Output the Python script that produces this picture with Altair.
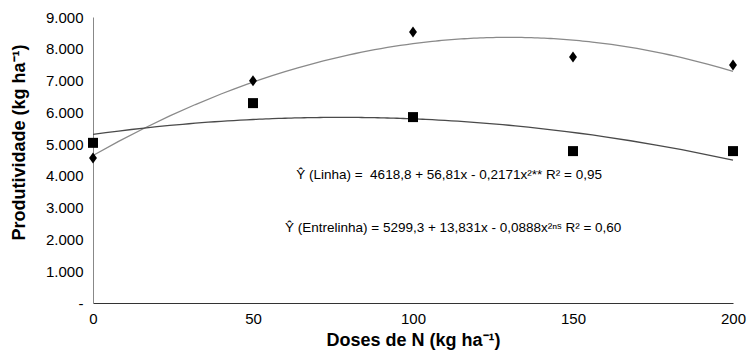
import altair as alt
import pandas as pd

doses = [0, 50, 100, 150, 200]
linha = [4560, 6990, 8530, 7740, 7490]
entrelinha = [5040, 6290, 5850, 4780, 4780]
series_names = ["Linha", "Entrelinha"]
x_ticks = [0, 50, 100, 150, 200]
y_ticks = [0, 1000, 2000, 3000, 4000, 5000, 6000, 7000, 8000, 9000]

eq_texts = [
    "Ŷ (Linha) =\u00a0\u00a04618,8 + 56,81x - 0,2171x²** R² = 0,95",
    "Ŷ (Entrelinha) = 5299,3 + 13,831x - 0,0888x²ⁿˢ R² = 0,60",
]
eq_x = [63.5, 60.0]
eq_y = [4030, 2360]

rows = []
for name, vals in zip(series_names, [linha, entrelinha]):
    for d, v in zip(doses, vals):
        rows.append({"dose": d, "prod": v, "serie": name})
df = pd.DataFrame(rows)
eq_df = pd.DataFrame({"x": eq_x, "y": eq_y, "t": eq_texts})

FONT = "Liberation Sans"

xscale = alt.Scale(domain=[0, 200], nice=False, zero=False)
yscale = alt.Scale(domain=[0, 9000], nice=False)

xaxis = alt.Axis(
    values=x_ticks, title="Doses de N (kg ha⁻¹)", ticks=False, grid=False,
    domainColor="#333333", labelPadding=8, titlePadding=5, labelFlush=False,
    labelOverlap=False,
)
yaxis = alt.Axis(
    values=y_ticks, title="Produtividade (kg ha⁻¹)", ticks=False, grid=False,
    domainColor="#888888", labelPadding=10, titlePadding=17, labelOverlap=False,
    titleY=125,
    labelExpr="datum.value == 0 ? '-\u00a0\u00a0' : replace(format(datum.value, ','), ',', '.')",
)

X = alt.X("dose:Q", scale=xscale, axis=xaxis)
Y = alt.Y("prod:Q", scale=yscale, axis=yaxis)

base = alt.Chart(df)

shape_scale = alt.Scale(
    domain=series_names,
    range=["M-0.72,0L0,-1L0.72,0L0,1Z", "square"],
)

points = base.mark_point(filled=True, opacity=1, color="#000000").encode(
    x=X, y=Y,
    shape=alt.Shape("serie:N", scale=shape_scale, legend=None),
    size=alt.Size("serie:N", scale=alt.Scale(domain=series_names, range=[121, 100]), legend=None),
)

trend = base.transform_regression(
    "dose", "prod", method="poly", order=2, groupby=["serie"]
).mark_line(strokeWidth=1.3).encode(
    x=X, y=Y,
    color=alt.Color("serie:N", scale=alt.Scale(domain=series_names, range=["#8a8a8a", "#4a4a4a"]), legend=None),
    detail="serie:N",
)

eqs = alt.Chart(eq_df).mark_text(
    align="left", baseline="middle", font=FONT, fontSize=13.5, color="#000000"
).encode(
    x=alt.X("x:Q", scale=xscale, axis=xaxis),
    y=alt.Y("y:Q", scale=yscale, axis=yaxis),
    text="t:N",
)

chart = alt.layer(trend, points, eqs).properties(
    width=640, height=286,
    autosize=alt.AutoSizeParams(type="none"),
    padding={"left": 93, "top": 17, "right": 16, "bottom": 60},
    background="#ffffff",
).configure_view(stroke=None).configure_axis(
    labelFont=FONT, labelFontSize=15, labelColor="#000000",
    titleFont=FONT, titleFontSize=18, titleFontWeight="bold", titleColor="#000000",
)

chart.save("out.html", embed_options={"renderer": "svg", "actions": False})
